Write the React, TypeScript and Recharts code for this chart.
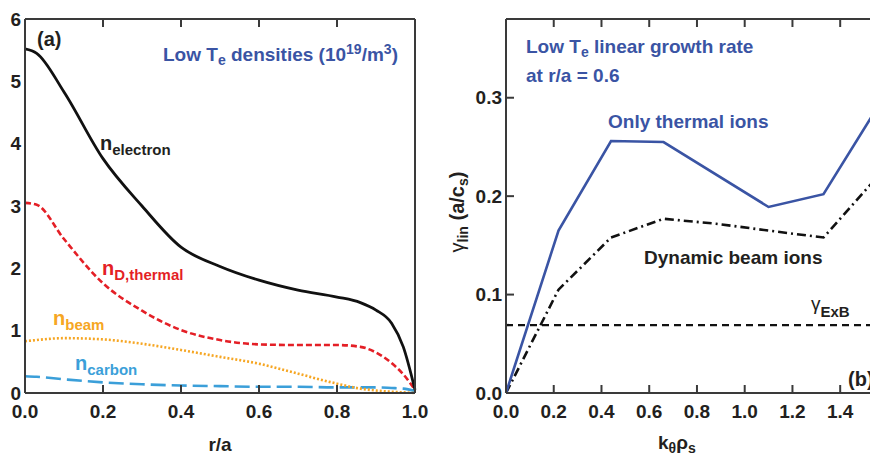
import React from 'react'
import { LineChart, Line, XAxis, YAxis, ReferenceLine } from 'recharts'

// panel (a): density profiles, 10^19 m^-3
const rValues = [0, 0.03, 0.1, 0.2, 0.3, 0.4, 0.5, 0.6, 0.7, 0.8, 0.86, 0.9, 0.94, 0.97, 1.0]
const nElectron = [5.52, 5.45, 4.83, 3.76, 3.0, 2.34, 2.03, 1.81, 1.65, 1.54, 1.45, 1.33, 1.12, 0.74, 0.05]
const nDThermal = [3.05, 3.02, 2.47, 1.76, 1.32, 1.01, 0.85, 0.78, 0.77, 0.77, 0.74, 0.65, 0.48, 0.3, 0.05]
const nBeam = [0.83, 0.85, 0.88, 0.86, 0.79, 0.69, 0.58, 0.47, 0.31, 0.15, 0.07, 0.04, 0.02, 0.01, 0.0]
const nCarbon = [0.27, 0.26, 0.22, 0.17, 0.14, 0.12, 0.11, 0.1, 0.1, 0.09, 0.09, 0.09, 0.08, 0.07, 0.03]

const rTicks = [0, 0.2, 0.4, 0.6, 0.8, 1.0]
const nTicks = [0, 1, 2, 3, 4, 5, 6]
const nRightTicks = [1, 2, 3, 4, 5]

// panel (b): linear growth rate at r/a = 0.6
const kValues = [0, 0.22, 0.44, 0.66, 0.88, 1.1, 1.33, 1.55]
const gammaThermal = [0, 0.165, 0.256, 0.255, null, 0.189, 0.202, 0.288]
const gammaBeam = [0, 0.105, 0.158, 0.177, 0.172, 0.165, 0.158, 0.218]
const gammaExB = 0.069

const kTicks = [0, 0.2, 0.4, 0.6, 0.8, 1.0, 1.2, 1.4]
const gTicks = [0, 0.1, 0.2, 0.3]

const densityRows = rValues.map((r, i) => ({
  r,
  electron: nElectron[i],
  dThermal: nDThermal[i],
  beam: nBeam[i],
  carbon: nCarbon[i],
}))

const growthRows = kValues.map((k, i) => ({
  k,
  thermal: gammaThermal[i],
  beam: gammaBeam[i],
}))

const FONT = 'Liberation Sans, Arial, sans-serif'
const INK = '#231f20'
const BLUE = '#3a54a4'
const frame = { stroke: '#3a3a3a', strokeWidth: 2 }
const tickStyle = { fontSize: 19, fontWeight: 'bold', fill: INK, fontFamily: FONT }
const blank = () => ''

export default function App() {
  return (
    <div
      style={{
        position: 'absolute',
        left: 0,
        top: 0,
        width: 870,
        height: 457,
        overflow: 'hidden',
        background: '#fff',
        fontFamily: FONT,
      }}
    >
      <div style={{ position: 'absolute', left: 0, top: 0 }}>
        <LineChart width={440} height={457} data={densityRows} margin={{ top: 0, right: 0, bottom: 0, left: 0 }}>
          <XAxis
            xAxisId="top"
            orientation="top"
            type="number"
            dataKey="r"
            domain={[0, 1]}
            ticks={rTicks}
            height={19}
            tickSize={-8}
            tickFormatter={blank}
            axisLine={frame}
            tickLine={frame}
          />
          <XAxis
            type="number"
            dataKey="r"
            domain={[0, 1]}
            ticks={rTicks}
            height={64}
            tickSize={-8}
            tickMargin={20}
            tickFormatter={(v: number) => v.toFixed(1)}
            tick={tickStyle}
            axisLine={frame}
            tickLine={frame}
          />
          <YAxis
            type="number"
            domain={[0, 6]}
            ticks={nTicks}
            width={25}
            tickSize={-8}
            tickMargin={12}
            tick={tickStyle}
            axisLine={frame}
            tickLine={false}
          />
          <YAxis
            yAxisId="right"
            orientation="right"
            type="number"
            domain={[0, 6]}
            ticks={nRightTicks}
            width={25}
            tickSize={-8}
            tickFormatter={blank}
            axisLine={frame}
            tickLine={frame}
          />
          <Line type="monotone" dataKey="carbon" stroke="#3b9fd9" strokeWidth={2.6} strokeDasharray="15 6" dot={false} isAnimationActive={false} />
          <Line type="monotone" dataKey="beam" stroke="#f6a623" strokeWidth={2.6} strokeDasharray="2 2" dot={false} isAnimationActive={false} />
          <Line type="monotone" dataKey="dThermal" stroke="#e41f26" strokeWidth={2.6} strokeDasharray="6 3" dot={false} isAnimationActive={false} />
          <Line type="monotone" dataKey="electron" stroke="#111" strokeWidth={2.8} dot={false} isAnimationActive={false} />
        </LineChart>
      </div>

      <div style={{ position: 'absolute', left: 440, top: 0 }}>
        <LineChart width={440} height={457} data={growthRows} margin={{ top: 0, right: 0, bottom: 0, left: 0 }}>
          <XAxis
            xAxisId="top"
            orientation="top"
            type="number"
            dataKey="k"
            domain={[0, 1.55]}
            ticks={kTicks}
            height={19}
            tickSize={-8}
            tickFormatter={blank}
            axisLine={frame}
            tickLine={frame}
          />
          <XAxis
            type="number"
            dataKey="k"
            domain={[0, 1.55]}
            ticks={kTicks}
            height={64}
            tickSize={-8}
            tickMargin={20}
            tickFormatter={(v: number) => v.toFixed(1)}
            tick={tickStyle}
            axisLine={frame}
            tickLine={frame}
          />
          <YAxis
            type="number"
            domain={[0, 0.38]}
            ticks={gTicks}
            width={66}
            tickSize={-8}
            tickMargin={12}
            tickFormatter={(v: number) => v.toFixed(1)}
            tick={tickStyle}
            axisLine={frame}
            tickLine={frame}
          />
          <YAxis
            yAxisId="right"
            orientation="right"
            type="number"
            domain={[0, 0.38]}
            ticks={gTicks}
            width={4}
            tickSize={-8}
            tickFormatter={blank}
            axisLine={frame}
            tickLine={frame}
          />
          <ReferenceLine y={gammaExB} stroke="#111" strokeWidth={2.4} strokeDasharray="7 5" />
          <Line type="linear" dataKey="beam" stroke="#111" strokeWidth={2.6} strokeDasharray="9 4 2 4" dot={false} isAnimationActive={false} />
          <Line type="linear" dataKey="thermal" stroke={BLUE} strokeWidth={2.6} connectNulls dot={false} isAnimationActive={false} />
        </LineChart>
      </div>

      {/* annotations */}
      <svg width={870} height={457} style={{ position: 'absolute', left: 0, top: 0, pointerEvents: 'none' }} fontFamily={FONT} fontWeight="bold">
        <text x={37} y={46} fontSize={20} fill={INK}>(a)</text>
        <text x={163} y={61} fontSize={19} fill={BLUE}>
          Low T<tspan fontSize={14} dy={4}>e</tspan>
          <tspan dy={-4}> densities (10</tspan>
          <tspan fontSize={14} dy={-7}>19</tspan>
          <tspan dy={7}>/m</tspan>
          <tspan fontSize={14} dy={-7}>3</tspan>
          <tspan dy={7}>)</tspan>
        </text>
        <text x={100} y={150} fontSize={20} fill={INK}>
          n<tspan fontSize={15} dy={5}>electron</tspan>
        </text>
        <text x={102} y={275} fontSize={20} fill="#e41f26">
          n<tspan fontSize={15} dy={5}>D,thermal</tspan>
        </text>
        <text x={53} y={325} fontSize={20} fill="#f6a623">
          n<tspan fontSize={15} dy={5}>beam</tspan>
        </text>
        <text x={75} y={370} fontSize={20} fill="#3b9fd9">
          n<tspan fontSize={15} dy={5}>carbon</tspan>
        </text>
        <text x={220} y={451} fontSize={19} fill={INK} textAnchor="middle">r/a</text>

        <text x={526} y={53} fontSize={19} fill={BLUE}>
          Low T<tspan fontSize={14} dy={4}>e</tspan>
          <tspan dy={-4}> linear growth rate</tspan>
        </text>
        <text x={526} y={82} fontSize={19} fill={BLUE}>at r/a = 0.6</text>
        <text x={608} y={128} fontSize={19} fill={BLUE}>Only thermal ions</text>
        <text x={644} y={264} fontSize={19} fill={INK}>Dynamic beam ions</text>
        <text x={811} y={310} fontSize={19} fontWeight="normal" fill={INK}>
          γ<tspan fontSize={15} fontWeight="bold" dy={7}>ExB</tspan>
        </text>
        <text x={848} y={386} fontSize={20} fill={INK}>(b)</text>
        <text x={658} y={449} fontSize={19} fill={INK}>
          k<tspan fontSize={14} dy={4}>θ</tspan>
          <tspan dy={-4}>ρ</tspan>
          <tspan fontSize={14} dy={4}>s</tspan>
        </text>
        <text transform="translate(464,212) rotate(-90)" fontSize={20} fill={INK} textAnchor="middle">
          <tspan fontWeight="normal">γ</tspan>
          <tspan fontSize={14} dy={4}>lin</tspan>
          <tspan dy={-4}> (a/c</tspan>
          <tspan fontSize={14} dy={4}>s</tspan>
          <tspan dy={-4}>)</tspan>
        </text>
      </svg>
    </div>
  )
}
